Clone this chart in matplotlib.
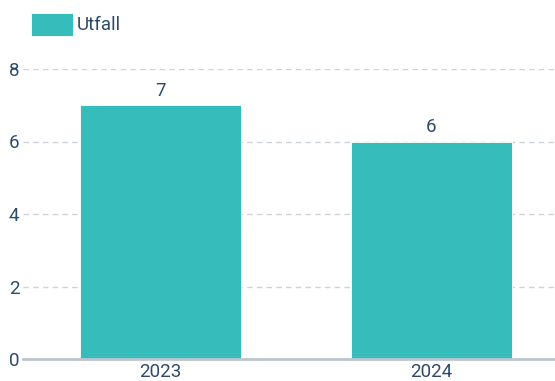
import matplotlib.pyplot as plt

years = ["2023", "2024"]
utfall = [7, 6]
yticks = [0, 2, 4, 6, 8]

teal = "#37BCBC"
ink = "#2E4A6B"

plt.rcParams["font.family"] = ["Roboto", "DejaVu Sans"]

fig = plt.figure(figsize=(5.55, 3.81), dpi=100)
ax = fig.add_axes([23 / 555, 22 / 381, 532 / 555, 290 / 381])

x = list(range(len(years)))
bars = ax.bar(x, utfall, width=0.595, color=teal, edgecolor="white", linewidth=0.6,
              label="Utfall", zorder=3)
ax.bar_label(bars, labels=[str(v) for v in utfall], padding=4, color=ink, fontsize=13.5)

ax.set_xlim(-0.508, 1.458)
ax.set_ylim(0, 8)
ax.set_xticks(x)
ax.set_xticklabels(years)
ax.set_yticks(yticks)

ax.grid(axis="y", color="#CCD3DB", linestyle=(0, (4, 3)), linewidth=1, zorder=0)
for side in ["top", "right", "left"]:
    ax.spines[side].set_visible(False)
ax.spines["bottom"].set_color("#BCC6D0")
ax.spines["bottom"].set_linewidth(2)
ax.spines["bottom"].set_zorder(4)

ax.tick_params(axis="both", length=0, colors=ink, labelsize=13.5)
ax.tick_params(axis="y", pad=2.5)
ax.tick_params(axis="x", pad=3)

fig.legend(loc="upper left", bbox_to_anchor=(23 / 555, 1 - 5 / 381), frameon=False,
           fontsize=13.5, handlelength=2.25, handleheight=1.55, handletextpad=0.2,
           labelcolor=ink, borderaxespad=0)

fig.savefig("out.png", dpi=100)
